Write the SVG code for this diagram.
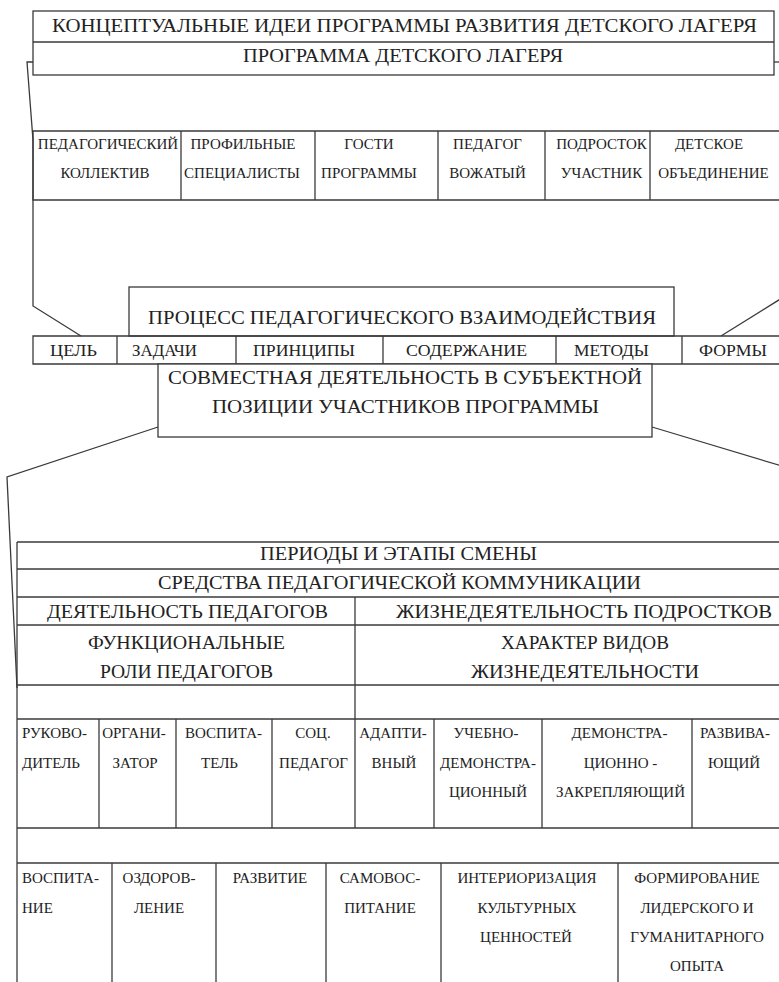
<svg xmlns="http://www.w3.org/2000/svg" width="779" height="982" viewBox="0 0 779 982" font-family="Liberation Serif, DejaVu Serif, serif">
<style>
  .ln { stroke: #3a3a3a; stroke-width: 1.3; fill: none; }
  .bx { stroke: #3a3a3a; stroke-width: 1.3; fill: #fff; }
  text { font-family: "Liberation Serif", "DejaVu Serif", serif; fill: #222; text-anchor: middle; }
  .t19 { font-size: 19px; }
  .t18 { font-size: 18px; }
  .t17 { font-size: 16.5px; }
  .t15 { font-size: 15px; }
  .l { text-anchor: start; }
</style>
<rect width="779" height="982" fill="#fff"/>

<g id="connectors">
  <polyline class="ln" points="33,62 27,62 33,140 33,306 81,336"/>
  <line class="ln" x1="774" y1="62" x2="779" y2="62"/>
  <line class="ln" x1="782" y1="298" x2="721" y2="336"/>
  <polyline class="ln" points="158,427 7,477 17,688"/>
  <line class="ln" x1="652" y1="427" x2="785" y2="467"/>
</g>

<g id="concept">
  <rect class="bx" x="33" y="11" width="741" height="64"/>
  <line class="ln" x1="33" y1="42" x2="774" y2="42"/>
  <text class="t19" x="404.5" y="32" textLength="705" lengthAdjust="spacingAndGlyphs">КОНЦЕПТУАЛЬНЫЕ ИДЕИ ПРОГРАММЫ РАЗВИТИЯ ДЕТСКОГО ЛАГЕРЯ</text>
  <text class="t19" x="403" y="62" textLength="320" lengthAdjust="spacingAndGlyphs">ПРОГРАММА ДЕТСКОГО ЛАГЕРЯ</text>
</g>

<g id="participants">
  <polyline class="ln" points="779,131 33,131 33,200 779,200"/>
  <line class="ln" x1="181" y1="131" x2="181" y2="200"/>
  <line class="ln" x1="315" y1="131" x2="315" y2="200"/>
  <line class="ln" x1="438" y1="131" x2="438" y2="200"/>
  <line class="ln" x1="545" y1="131" x2="545" y2="200"/>
  <line class="ln" x1="650" y1="131" x2="650" y2="200"/>
  <text class="t15" x="108" y="149">ПЕДАГОГИЧЕСКИЙ</text>
  <text class="t15" x="105" y="178">КОЛЛЕКТИВ</text>
  <text class="t15" x="243" y="149">ПРОФИЛЬНЫЕ</text>
  <text class="t15" x="242" y="178">СПЕЦИАЛИСТЫ</text>
  <text class="t15" x="369" y="149">ГОСТИ</text>
  <text class="t15" x="369" y="178">ПРОГРАММЫ</text>
  <text class="t15" x="487.5" y="149">ПЕДАГОГ</text>
  <text class="t15" x="487.5" y="178">ВОЖАТЫЙ</text>
  <text class="t15" x="601.5" y="149">ПОДРОСТОК</text>
  <text class="t15" x="601.5" y="178">УЧАСТНИК</text>
  <text class="t15" x="709" y="149">ДЕТСКОЕ</text>
  <text class="t15" x="713.5" y="178">ОБЪЕДИНЕНИЕ</text>
</g>

<g id="process">
  <rect class="bx" x="129" y="287" width="545" height="49"/>
  <text class="t19" x="402" y="324" textLength="508" lengthAdjust="spacingAndGlyphs">ПРОЦЕСС ПЕДАГОГИЧЕСКОГО ВЗАИМОДЕЙСТВИЯ</text>
</g>

<g id="components">
  <polyline class="ln" points="779,336 33,336 33,364 779,364"/>
  <line class="ln" x1="117" y1="336" x2="117" y2="364"/>
  <line class="ln" x1="236" y1="336" x2="236" y2="364"/>
  <line class="ln" x1="383" y1="336" x2="383" y2="364"/>
  <line class="ln" x1="556" y1="336" x2="556" y2="364"/>
  <line class="ln" x1="682" y1="336" x2="682" y2="364"/>
  <text class="t17" x="73.5" y="356" textLength="47" lengthAdjust="spacingAndGlyphs">ЦЕЛЬ</text>
  <text class="t17" x="164.5" y="356" textLength="65" lengthAdjust="spacingAndGlyphs">ЗАДАЧИ</text>
  <text class="t17" x="304" y="356" textLength="102" lengthAdjust="spacingAndGlyphs">ПРИНЦИПЫ</text>
  <text class="t17" x="466.5" y="356" textLength="121" lengthAdjust="spacingAndGlyphs">СОДЕРЖАНИЕ</text>
  <text class="t17" x="611.5" y="356" textLength="75" lengthAdjust="spacingAndGlyphs">МЕТОДЫ</text>
  <text class="t17" x="733" y="356" textLength="68" lengthAdjust="spacingAndGlyphs">ФОРМЫ</text>
</g>

<g id="joint-activity">
  <rect class="bx" x="158" y="364" width="494" height="73"/>
  <text class="t19" x="405" y="384" textLength="474" lengthAdjust="spacingAndGlyphs">СОВМЕСТНАЯ ДЕЯТЕЛЬНОСТЬ В СУБЪЕКТНОЙ</text>
  <text class="t19" x="405.5" y="413" textLength="387" lengthAdjust="spacingAndGlyphs">ПОЗИЦИИ УЧАСТНИКОВ ПРОГРАММЫ</text>
</g>

<g id="shift-table">
  <line class="ln" x1="17" y1="542" x2="17" y2="982"/>
  <line class="ln" x1="17" y1="542" x2="779" y2="542"/>
  <line class="ln" x1="17" y1="569" x2="779" y2="569"/>
  <line class="ln" x1="17" y1="597" x2="779" y2="597"/>
  <line class="ln" x1="17" y1="625" x2="779" y2="625"/>
  <line class="ln" x1="17" y1="685" x2="779" y2="685"/>
  <line class="ln" x1="17" y1="719" x2="779" y2="719"/>
  <line class="ln" x1="17" y1="828" x2="779" y2="828"/>
  <line class="ln" x1="17" y1="863" x2="779" y2="863"/>
  <line class="ln" x1="355" y1="597" x2="355" y2="828"/>
  <text class="t18" x="398.5" y="560" textLength="277" lengthAdjust="spacingAndGlyphs">ПЕРИОДЫ И ЭТАПЫ СМЕНЫ</text>
  <text class="t18" x="399.5" y="589" textLength="483" lengthAdjust="spacingAndGlyphs">СРЕДСТВА ПЕДАГОГИЧЕСКОЙ КОММУНИКАЦИИ</text>
</g>

<g id="teachers">
  <text class="t18" x="187.5" y="618" textLength="281" lengthAdjust="spacingAndGlyphs">ДЕЯТЕЛЬНОСТЬ ПЕДАГОГОВ</text>
  <text class="t18" x="186.5" y="649" textLength="197" lengthAdjust="spacingAndGlyphs">ФУНКЦИОНАЛЬНЫЕ</text>
  <text class="t18" x="186.5" y="678" textLength="173" lengthAdjust="spacingAndGlyphs">РОЛИ ПЕДАГОГОВ</text>
</g>

<g id="teens">
  <text class="t18" x="584" y="618" textLength="376" lengthAdjust="spacingAndGlyphs">ЖИЗНЕДЕЯТЕЛЬНОСТЬ ПОДРОСТКОВ</text>
  <text class="t18" x="585" y="649" textLength="168" lengthAdjust="spacingAndGlyphs">ХАРАКТЕР ВИДОВ</text>
  <text class="t18" x="585" y="678" textLength="228" lengthAdjust="spacingAndGlyphs">ЖИЗНЕДЕЯТЕЛЬНОСТИ</text>
</g>

<g id="roles">
  <line class="ln" x1="99" y1="719" x2="99" y2="828"/>
  <line class="ln" x1="176" y1="719" x2="176" y2="828"/>
  <line class="ln" x1="272" y1="719" x2="272" y2="828"/>
  <text class="t15 l" x="22" y="738">РУКОВО-</text>
  <text class="t15 l" x="22" y="768">ДИТЕЛЬ</text>
  <text class="t15" x="134" y="738">ОРГАНИ-</text>
  <text class="t15" x="135" y="768">ЗАТОР</text>
  <text class="t15" x="223.5" y="738">ВОСПИТА-</text>
  <text class="t15" x="219.5" y="768">ТЕЛЬ</text>
  <text class="t15" x="313" y="738">СОЦ.</text>
  <text class="t15" x="313.5" y="768">ПЕДАГОГ</text>
</g>

<g id="activity-types">
  <line class="ln" x1="434" y1="719" x2="434" y2="828"/>
  <line class="ln" x1="542" y1="719" x2="542" y2="828"/>
  <line class="ln" x1="692" y1="719" x2="692" y2="828"/>
  <text class="t15" x="393" y="738">АДАПТИ-</text>
  <text class="t15" x="394" y="768">ВНЫЙ</text>
  <text class="t15" x="486" y="738">УЧЕБНО-</text>
  <text class="t15" x="488" y="768">ДЕМОНСТРА-</text>
  <text class="t15" x="488" y="797">ЦИОННЫЙ</text>
  <text class="t15" x="619.5" y="738">ДЕМОНСТРА-</text>
  <text class="t15" x="620.5" y="768">ЦИОННО -</text>
  <text class="t15" x="620.5" y="797">ЗАКРЕПЛЯЮЩИЙ</text>
  <text class="t15" x="735" y="738">РАЗВИВА-</text>
  <text class="t15" x="734" y="768">ЮЩИЙ</text>
</g>

<g id="goals">
  <line class="ln" x1="112" y1="863" x2="112" y2="982"/>
  <line class="ln" x1="216" y1="863" x2="216" y2="982"/>
  <line class="ln" x1="326" y1="863" x2="326" y2="982"/>
  <line class="ln" x1="441" y1="863" x2="441" y2="982"/>
  <line class="ln" x1="618" y1="863" x2="618" y2="982"/>
  <text class="t15 l" x="22" y="883">ВОСПИТА-</text>
  <text class="t15 l" x="22" y="913">НИЕ</text>
  <text class="t15" x="159" y="883">ОЗДОРОВ-</text>
  <text class="t15" x="159" y="913">ЛЕНИЕ</text>
  <text class="t15" x="270" y="883">РАЗВИТИЕ</text>
  <text class="t15" x="380" y="883">САМОВОС-</text>
  <text class="t15" x="380" y="913">ПИТАНИЕ</text>
  <text class="t15" x="527" y="883">ИНТЕРИОРИЗАЦИЯ</text>
  <text class="t15" x="527" y="913">КУЛЬТУРНЫХ</text>
  <text class="t15" x="526" y="942">ЦЕННОСТЕЙ</text>
  <text class="t15" x="697" y="883">ФОРМИРОВАНИЕ</text>
  <text class="t15" x="697" y="913">ЛИДЕРСКОГО И</text>
  <text class="t15" x="697" y="942">ГУМАНИТАРНОГО</text>
  <text class="t15" x="697" y="971">ОПЫТА</text>
</g>
</svg>
